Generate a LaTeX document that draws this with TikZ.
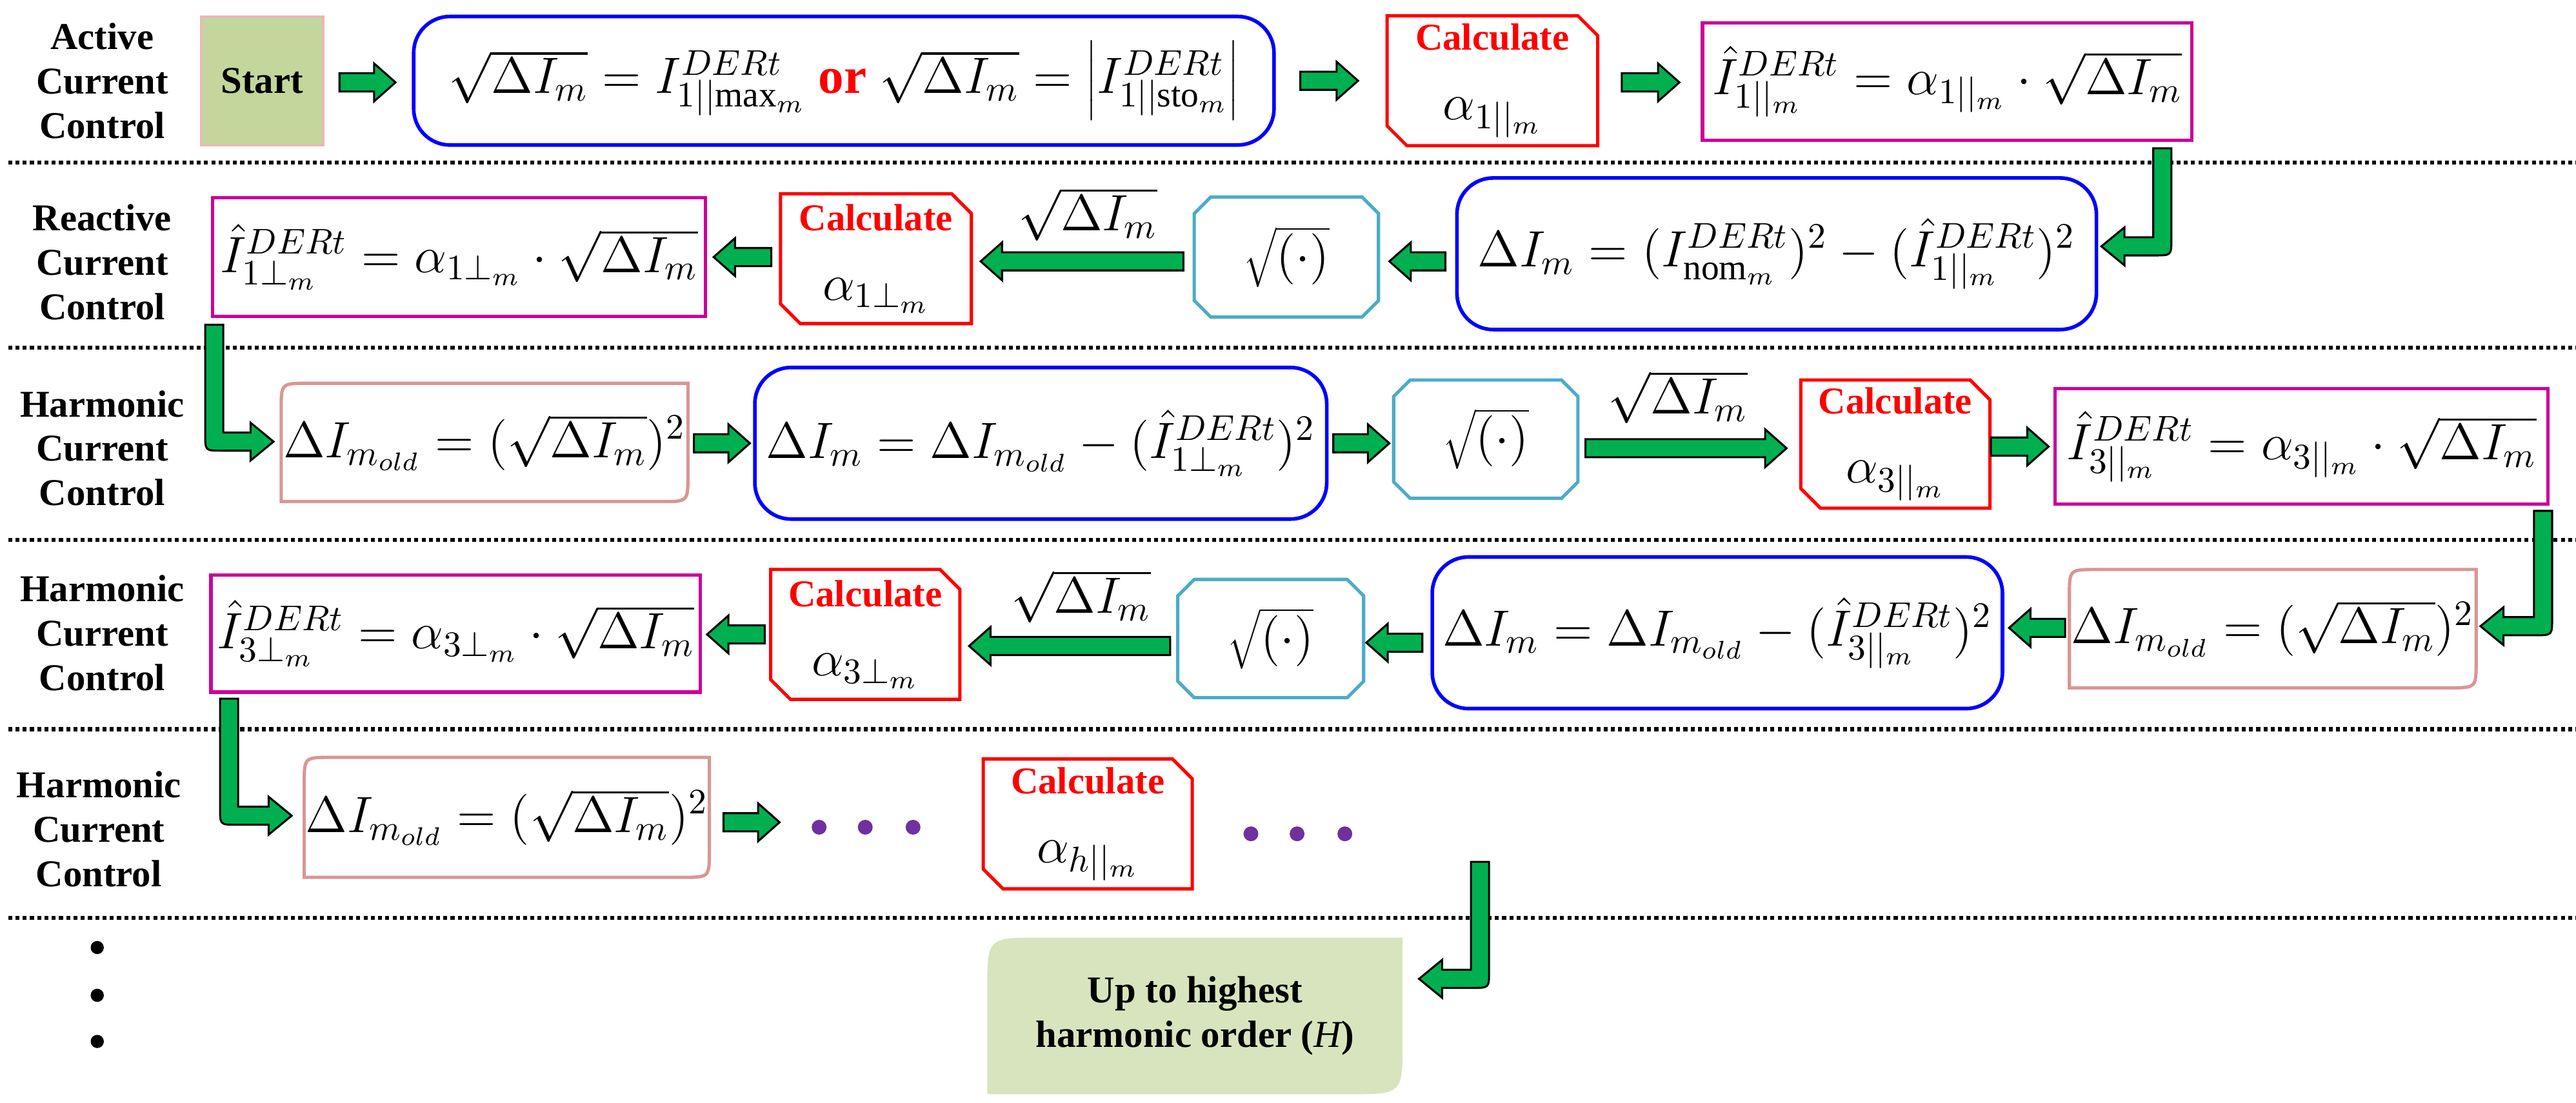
\RequirePackage{fix-cm}
\documentclass[tikz,border=0pt]{standalone}
\usepackage{fontspec}
\setmainfont{Liberation Serif}
\usetikzlibrary{calc}
\definecolor{bluec}{HTML}{0000FF}
\definecolor{magc}{HTML}{CC0099}
\definecolor{redc}{HTML}{FF0000}
\definecolor{cyanc}{HTML}{4BACC6}
\definecolor{pinkc}{HTML}{D99694}
\definecolor{greenc}{HTML}{00B050}
\definecolor{startc}{HTML}{C3D69B}
\definecolor{startb}{HTML}{E6B9B8}
\definecolor{endc}{HTML}{D7E4BD}
\definecolor{purc}{HTML}{7030A0}
\tikzset{
  lbl/.style={font=\bfseries\fontsize{11.5}{13.5}\selectfont, align=center},
  mth/.style={font=\fontsize{15.5}{18}\selectfont, inner sep=0pt, align=center},
  bluebox/.style={mth, draw=bluec, line width=1.1pt, rounded corners=11pt},
  magbox/.style={mth, draw=magc, line width=1pt},
  plain/.style={mth},
  arrowsty/.style={fill=greenc, draw=black, line width=0.6pt, line join=miter},
  sep/.style={densely dotted, line width=1.2pt},
}
\newcommand\calcoutline[1]{\draw[redc,line width=1pt] (#1.north west) -- ([xshift=-6pt]#1.north east) -- ([yshift=-6pt]#1.north east) -- (#1.south east) -- ([xshift=6pt]#1.south west) -- ([yshift=6pt]#1.south west) -- cycle;}
\newcommand\cyanoutline[1]{\draw[cyanc,line width=1pt] ([xshift=5pt]#1.north west) -- ([xshift=-5pt]#1.north east) -- ([yshift=-5pt]#1.north east) -- ([yshift=5pt]#1.south east) -- ([xshift=-5pt]#1.south east) -- ([xshift=5pt]#1.south west) -- ([yshift=5pt]#1.south west) -- ([yshift=-5pt]#1.north west) -- cycle;}
\newcommand\pinkoutline[1]{\draw[pinkc,line width=1pt] ([xshift=8pt]#1.north west) -- (#1.north east) -- ([yshift=8pt]#1.south east) .. controls (#1.south east) .. ([xshift=-8pt]#1.south east) -- (#1.south west) -- ([yshift=-8pt]#1.north west) .. controls (#1.north west) .. ([xshift=8pt]#1.north west) -- cycle;}
\newcommand\blockarrow[4]{\draw[arrowsty] (#1,{#3-5.5}) -- ({#2-#4*13},{#3-5.5}) -- ({#2-#4*13},{#3-11.5}) -- (#2,#3) -- ({#2-#4*13},{#3+11.5}) -- ({#2-#4*13},{#3+5.5}) -- (#1,{#3+5.5}) -- cycle;}
\newcommand\bentarrow[5]{\draw[arrowsty] ({#1+#5*5.5},#2) -- ({#1-#5*5.5},#2) -- ({#1-#5*5.5},{#4+5.5-10}) .. controls ({#1-#5*5.5},{#4+5.5}) .. ({#1-#5*5.5+#5*10},{#4+5.5}) -- ({#3-#5*14},{#4+5.5}) -- ({#3-#5*14},{#4+11.5}) -- (#3,#4) -- ({#3-#5*14},{#4-11.5}) -- ({#3-#5*14},{#4-5.5}) -- ({#1+#5*5.5},{#4-5.5}) -- cycle;}
\newcommand\calctext[1]{{\color{redc}\bfseries\fontsize{11.5}{13}\selectfont Calculate}\\[3pt]$#1$}
\begin{document}
\begin{tikzpicture}[x=0.5pt,y=-0.5pt]
\useasboundingbox (0,0) rectangle (1563,669);
% separators
\foreach \yy/\nm in {98.8/s1,211/s2,327.6/s3,442.5/s4,557/s5}{
  \coordinate (\nm a) at (5,\yy); \coordinate (\nm b) at (1563,\yy);
  \draw[sep] (\nm a) -- (\nm b);
}
% row labels
\node[lbl] (l1) at (62,49) {Active\\Current\\Control};
\node[lbl] (l2) at (62,159) {Reactive\\Current\\Control};
\node[lbl] (l3) at (62,272) {Harmonic\\Current\\Control};
\node[lbl] (l4) at (62,384) {Harmonic\\Current\\Control};
\node[lbl] (l5) at (60,503) {Harmonic\\Current\\Control};
% row 1
\node[lbl, fill=startc, draw=startb, line width=0.8pt, minimum width=37pt, minimum height=39pt] (start) at (159,49) {Start};
\node[bluebox, minimum width=261pt, minimum height=39pt] (b1) at (512,49)
  {$\sqrt{\Delta I_m}=I^{DERt}_{1||\mathrm{max}_m}$ \textcolor{redc}{\bfseries or} $\sqrt{\Delta I_m}=\left|I^{DERt}_{1||\mathrm{sto}_m}\right|$};
\node[plain, minimum width=63.5pt, minimum height=39pt] (c1) at (905.5,49) {\calctext{\alpha_{1||_m}}};
\calcoutline{c1}
\node[magbox, minimum width=148.5pt, minimum height=35.5pt] (m1) at (1181.5,49.5) {$\hat{I}^{DERt}_{1||_m}=\alpha_{1||_m}\cdot\sqrt{\Delta I_m}$};
% row 2
\node[bluebox, minimum width=194pt, minimum height=46pt] (b2) at (1078,154) {$\Delta I_m=(I^{DERt}_{\mathrm{nom}_m})^2-(\hat{I}^{DERt}_{1||_m})^2$};
\node[plain, minimum width=55.5pt, minimum height=36pt] (q2) at (780.5,156) {$\sqrt{(\cdot)}$};
\cyanoutline{q2}
\node[plain] (t2) at (660,130) {$\sqrt{\Delta I_m}$};
\node[plain, minimum width=57.5pt, minimum height=39pt] (c2) at (531.5,157) {\calctext{\alpha_{1\perp_m}}};
\calcoutline{c2}
\node[magbox, minimum width=149.5pt, minimum height=36pt] (m2) at (278.5,156) {$\hat{I}^{DERt}_{1\perp_m}=\alpha_{1\perp_m}\cdot\sqrt{\Delta I_m}$};
% row 3
\node[plain, minimum width=123pt, minimum height=35.5pt] (p3) at (294,268.5) {$\Delta I_{m_{old}}=(\sqrt{\Delta I_m})^2$};
\pinkoutline{p3}
\node[bluebox, minimum width=173.5pt, minimum height=46pt] (b3) at (631.5,269) {$\Delta I_m=\Delta I_{m_{old}}-(\hat{I}^{DERt}_{1\perp_m})^2$};
\node[plain, minimum width=55.5pt, minimum height=35.5pt] (q3) at (901.5,266.5) {$\sqrt{(\cdot)}$};
\cyanoutline{q3}
\node[plain] (t3) at (1018,241) {$\sqrt{\Delta I_m}$};
\node[plain, minimum width=57pt, minimum height=38.5pt] (c3) at (1150,269.5) {\calctext{\alpha_{3||_m}}};
\calcoutline{c3}
\node[magbox, minimum width=149.5pt, minimum height=35pt] (m3) at (1396.5,271) {$\hat{I}^{DERt}_{3||_m}=\alpha_{3||_m}\cdot\sqrt{\Delta I_m}$};
% row 4
\node[plain, minimum width=123pt, minimum height=35.5pt] (p4) at (1379,381.5) {$\Delta I_{m_{old}}=(\sqrt{\Delta I_m})^2$};
\pinkoutline{p4}
\node[bluebox, minimum width=173pt, minimum height=46pt] (b4) at (1042,384) {$\Delta I_m=\Delta I_{m_{old}}-(\hat{I}^{DERt}_{3||_m})^2$};
\node[plain, minimum width=56pt, minimum height=35.5pt] (q4) at (771,387.5) {$\sqrt{(\cdot)}$};
\cyanoutline{q4}
\node[plain] (t4) at (656,362) {$\sqrt{\Delta I_m}$};
\node[plain, minimum width=57pt, minimum height=39pt] (c4) at (525,385) {\calctext{\alpha_{3\perp_m}}};
\calcoutline{c4}
\node[magbox, minimum width=148.5pt, minimum height=35.5pt] (m4) at (276.5,384.5) {$\hat{I}^{DERt}_{3\perp_m}=\alpha_{3\perp_m}\cdot\sqrt{\Delta I_m}$};
% row 5
\node[plain, minimum width=122.5pt, minimum height=36pt] (p5) at (307.5,496) {$\Delta I_{m_{old}}=(\sqrt{\Delta I_m})^2$};
\pinkoutline{p5}
\node[plain, minimum width=63pt, minimum height=39pt] (c5) at (660,500) {\calctext{\alpha_{h||_m}}};
\calcoutline{c5}
\foreach \xx [count=\i] in {497,525,554}{\node[circle, fill=purc, inner sep=0pt, minimum size=4.5pt] (da\i) at (\xx,502) {};}
\foreach \xx [count=\i] in {759,787,816}{\node[circle, fill=purc, inner sep=0pt, minimum size=4.5pt] (db\i) at (\xx,506) {};}
\foreach \yy [count=\i] in {575,604,632}{\node[circle, fill=black, inner sep=0pt, minimum size=4pt] (dl\i) at (59,\yy) {};}
% end box
\coordinate (endnw) at (599,569); \coordinate (endse) at (851,664);
\fill[endc] ([xshift=16pt]endnw) -- (endse |- endnw) -- ([yshift=16pt]endse) .. controls (endse) .. ([xshift=-16pt]endse) -- (endnw |- endse) -- ([yshift=-16pt]endnw) .. controls (endnw) .. ([xshift=16pt]endnw) -- cycle;
\node[lbl] (end) at (725,616.5) {Up to highest\\harmonic order ({\mdseries\itshape H})};
% straight arrows
\blockarrow{206}{240}{50}{1}
\blockarrow{789}{824}{49}{1}
\blockarrow{984}{1019}{50}{1}
\blockarrow{877}{843}{158.6}{-1}
\blockarrow{718}{595}{158.6}{-1}
\blockarrow{468}{433}{156}{-1}
\blockarrow{421}{455}{269}{1}
\blockarrow{809}{843}{269}{1}
\blockarrow{962}{1084}{272}{1}
\blockarrow{1208}{1243}{271}{1}
\blockarrow{1253}{1219}{381}{-1}
\blockarrow{863}{829}{390}{-1}
\blockarrow{710}{588}{392}{-1}
\blockarrow{464}{429}{385}{-1}
\blockarrow{439}{473}{499}{1}
% bent arrows
\bentarrow{1312}{90}{1275}{149.5}{-1}
\bentarrow{130}{197}{166}{268}{1}
\bentarrow{1543}{310}{1505}{380}{-1}
\bentarrow{139}{424}{177}{495}{1}
\bentarrow{898}{523}{861}{594}{-1}
\end{tikzpicture}
\end{document}
